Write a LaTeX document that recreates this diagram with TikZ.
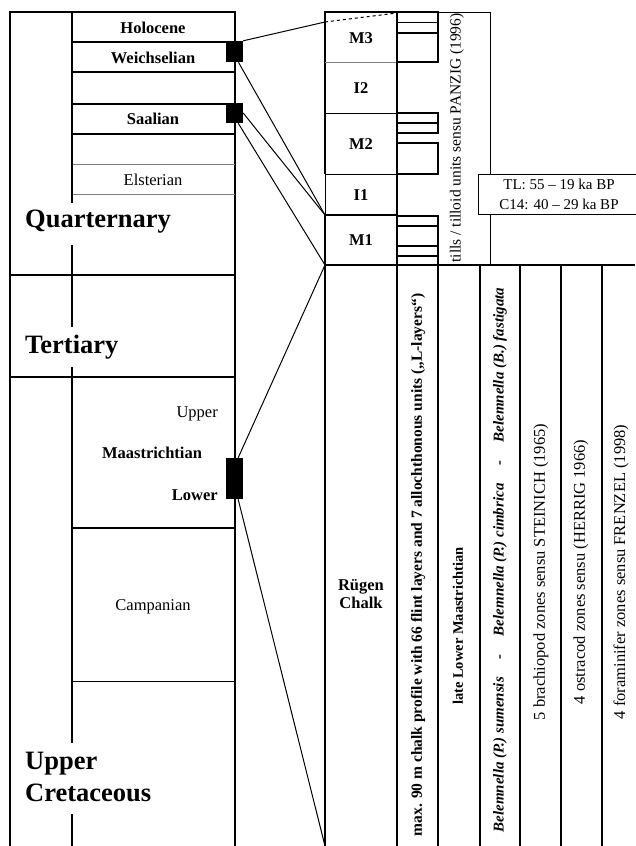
\documentclass[tikz,border=0pt]{standalone}
\usepackage{fontspec}
\setmainfont{Liberation Serif}
\begin{document}
\begin{tikzpicture}[x=1pt,y=-1pt,
  thk/.style={line width=2.5pt},
  med/.style={line width=1.6pt},
  thn/.style={line width=0.8pt},
  conn/.style={line width=1pt},
  lbl/.style={inner sep=0pt,font=\fontsize{16.5}{18}\selectfont},
  blbl/.style={inner sep=0pt,font=\fontsize{16.5}{18}\selectfont\bfseries},
  big/.style={inner sep=0pt,anchor=west,align=left,font=\fontsize{26.5}{32}\selectfont\bfseries},
  marker/.style={fill=black,draw=none,minimum width=17pt,inner sep=0pt},
  rot/.style={rotate=90,inner sep=0pt}
]
\useasboundingbox (0,0) rectangle (635,846);

% ---------- left chart ----------
\draw[thk] (10,846) -- (10,12) -- (235,12) -- (235,846);
\draw[thk] (72,42) -- (235,42) (72,72) -- (235,72) (72,104) -- (235,104) (72,134) -- (235,134);
\draw[thn,gray] (72,164) -- (235,164) (72,194) -- (235,194);
\draw[med] (72,12) -- (72,203) (72,245) -- (72,327) (72,367) -- (72,743) (72,814) -- (72,846);
\draw[thk] (72,377) -- (72,528);
\draw[thk] (10,275) -- (235,275) (10,377) -- (235,377) (72,528) -- (235,528);
\draw[thn] (72,681) -- (235,681);

\node[blbl] (hol) at (153,28) {Holocene};
\node[blbl] (wei) at (153,58) {Weichselian};
\node[blbl] (saa) at (153,119) {Saalian};
\node[lbl] (els) at (153,180) {Elsterian};
\node[big] (qua) at (25,222) {Quarternary};
\node[big] (ter) at (25,347) {Tertiary};
\node[lbl,anchor=east] (upp) at (218,414) {Upper};
\node[blbl] (maa) at (152,453) {Maastrichtian};
\node[blbl,anchor=east] (low) at (218,495) {Lower};
\node[lbl] (cam) at (153,607) {Campanian};
\node[big] (uc) at (25,777) {Upper\\Cretaceous};

\node[marker,minimum height=21pt] (mW) at (234.5,51.5) {};
\node[marker,minimum height=20pt] (mS) at (234.5,113) {};
\node[marker,minimum height=41pt] (mM) at (234.5,478.5) {};

% ---------- right chart ----------
\draw[thk] (325,174) -- (325,12) -- (397,12) -- (397,846);
\draw[thk] (325,215) -- (325,846);
\draw[thn] (325,174) -- (325,215);
\draw[thn,gray] (325,62) -- (397,62);
\draw[thn] (325,113) -- (397,113) (325,174) -- (397,174);
\draw[thk] (325,215) -- (397,215) (325,265) -- (397,265);
\draw[thn] (397,12) -- (490,12) -- (490,174) (490,214) -- (490,265);
\draw[line width=1.2pt] (397,265) -- (635,265);
\foreach \x in {438,480,520,561,602} \draw[line width=1.3pt] (\x,265) -- (\x,846);

% hatch bars
\draw[med] (397,12) rectangle (438,22.5) (397,22.5) rectangle (438,32.5) (397,33) rectangle (438,62);
\draw[med] (397,113) rectangle (438,123) (397,123) rectangle (438,133) (397,143) rectangle (438,174);
\draw[med] (397,216) rectangle (438,226) (397,226) rectangle (438,246) (397,246) rectangle (438,256) (397,256) rectangle (438,265);

\node[blbl] (m3) at (361,38) {M3};
\node[blbl] (i2) at (361,88) {I2};
\node[blbl] (m2) at (361,144) {M2};
\node[blbl] (i1) at (361,195) {I1};
\node[blbl] (m1) at (361,240) {M1};
\node[blbl,align=center] (rc) at (361,594) {Rügen\\Chalk};

\node[draw,thn,fill=white,minimum width=162pt,minimum height=40pt,align=center,
  font=\fontsize{15}{20}\selectfont] (tl) at (559,194.5) {TL: 55 – 19 ka BP\\C14: 40 – 29 ka BP};

\node[rot,font=\fontsize{15.5}{18}\selectfont] (till) at (457,138) {tills / tilloid units sensu PANZIG (1996)};
\node[rot,font=\fontsize{15.5}{18}\selectfont\bfseries] (maxp) at (418,565) {max. 90 m chalk profile with 66 flint layers and 7 allochthonous units („L-layers“)};
\node[rot,font=\fontsize{14.5}{18}\selectfont\bfseries] (llm) at (458,626) {late Lower Maastrichtian};
\node[rot,font=\fontsize{15}{18}\selectfont\bfseries\itshape] (bel) at (500,560) {Belemnella (P.) sumensis\hspace{18pt}-\hspace{18pt}Belemnella (P.) cimbrica\hspace{18pt}-\hspace{18pt}Belemnella (B.) fastigata};
\node[rot,font=\fontsize{16.5}{18}\selectfont] (bra) at (541,572) {5 brachiopod zones sensu STEINICH (1965)};
\node[rot,font=\fontsize{16.5}{18}\selectfont] (ost) at (581,572) {4 ostracod zones sensu (HERRIG 1966)};
\node[rot,font=\fontsize{16.5}{18}\selectfont] (for) at (621,572) {4 foraminifer zones sensu FRENZEL (1998)};

% ---------- connectors ----------
\coordinate (cM3) at (325,22);
\coordinate (cM3r) at (397,13);
\coordinate (cM1) at (325,215);
\coordinate (cRC) at (325,265);
\coordinate (cBot) at (325,846);
\draw[conn] (mW.north east) -- (cM3);
\draw[conn,dashed] (cM3) -- (cM3r);
\draw[conn] (mW.-70) -- (cM1);
\draw[conn] (mS.east) -- (cM1);
\draw[conn] (mS.-70) -- (cRC);
\draw[conn] (mM.80) -- (cRC);
\draw[conn] (mM.-80) -- (cBot);
\end{tikzpicture}
\end{document}
